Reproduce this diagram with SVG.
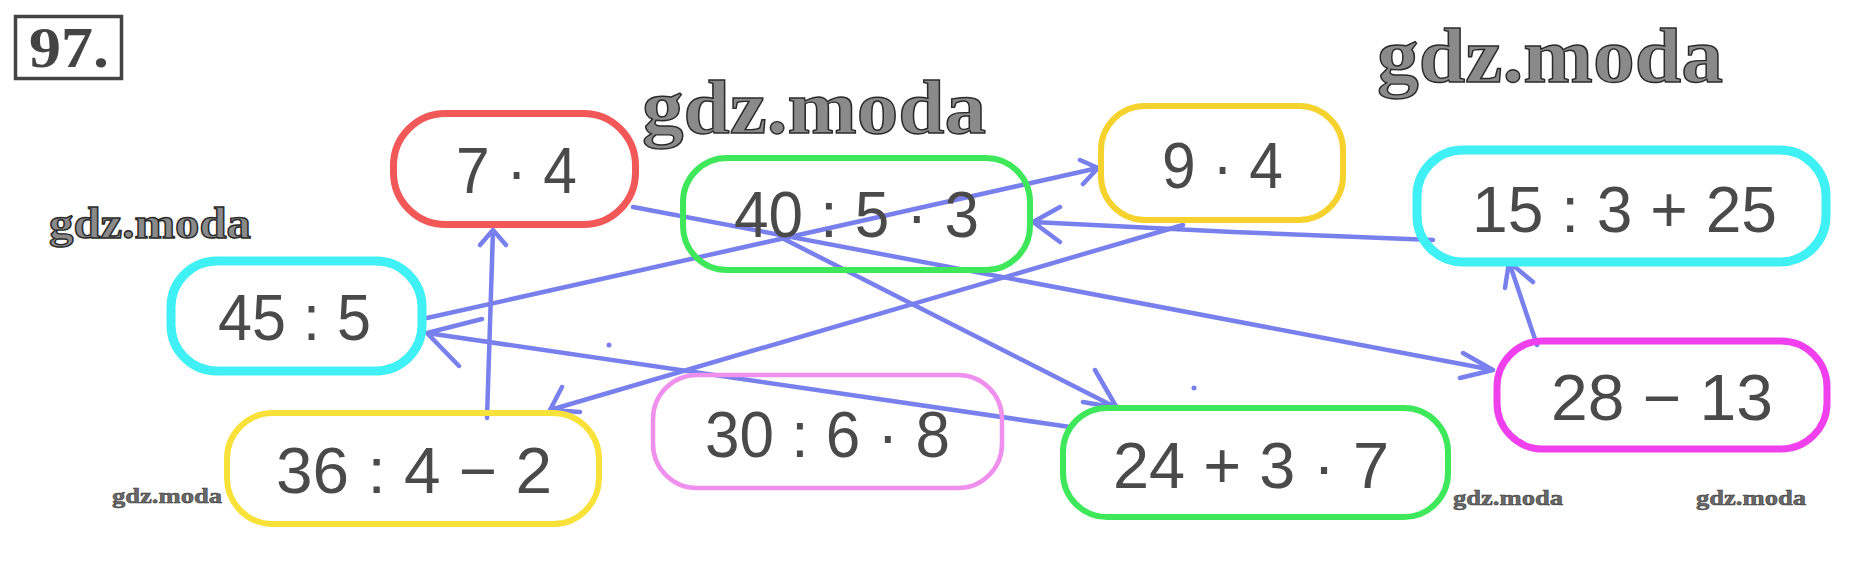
<svg xmlns="http://www.w3.org/2000/svg" width="1855" height="572" viewBox="0 0 1855 572">
<style>
.box{fill:none;}
.lbl{font-family:"Liberation Sans","Roboto",sans-serif;font-size:64px;fill:#4a4a4a;}
.wm{font-family:"Liberation Serif","DejaVu Serif",serif;font-weight:bold;fill:#8a8a8a;stroke:#2a2a2a;stroke-width:1.4;}
.wms{font-family:"Liberation Serif","DejaVu Serif",serif;font-weight:bold;fill:#6a6a6a;stroke:#333;stroke-width:0.5;}
.c{fill:none;stroke:#7880ee;stroke-width:4.5;stroke-linecap:round;stroke-linejoin:round;}
.dot{fill:#7880ee;}
</style>
<rect width="1855" height="572" fill="#fff"/>
<g id="title">
<rect x="15.5" y="16.5" width="106" height="62" fill="none" stroke="#444" stroke-width="3.5"/>
<text x="29" y="67" font-family="Liberation Serif, serif" font-weight="bold" font-size="56" fill="#444" textLength="80" lengthAdjust="spacingAndGlyphs">97.</text>
</g>
<g id="watermarks">
<text class="wm" x="642" y="133" font-size="76" textLength="344" lengthAdjust="spacingAndGlyphs">gdz.moda</text>
<text class="wm" x="1377" y="82" font-size="78" textLength="346" lengthAdjust="spacingAndGlyphs">gdz.moda</text>
<text class="wm" x="49" y="238" font-size="45" textLength="202" lengthAdjust="spacingAndGlyphs" stroke-width="0.9">gdz.moda</text>
<text class="wms" x="112" y="503" font-size="22" textLength="110" lengthAdjust="spacingAndGlyphs">gdz.moda</text>
<text class="wms" x="1453" y="505" font-size="22" textLength="110" lengthAdjust="spacingAndGlyphs">gdz.moda</text>
<text class="wms" x="1696" y="505" font-size="22" textLength="110" lengthAdjust="spacingAndGlyphs">gdz.moda</text>
</g>
<g id="connectors">
<path class="c" d="M633,207 L1493,370 M1463,353 L1493,370 L1460,378"/>
<path class="c" d="M1537,345 L1509,262 M1505,288 L1509,262 L1533,282"/>
<path class="c" d="M1433,240 L1233,232 L1033,222 M1060,207 L1033,222 L1060,242"/>
<path class="c" d="M780,237 L1117,408 M1095,370 L1117,408 L1083,402"/>
<path class="c" d="M1070,427 L427,333 M482,319 L427,333 L459,366"/>
<path class="c" d="M427,318 L1098,168 M1080,160 L1098,168 L1083,184"/>
<path class="c" d="M1183,225 L550,410 M562,387 L550,410 L580,412"/>
<path class="c" d="M487,418 L493,230 M480,245 L493,230 L506,245"/>
<circle class="dot" cx="609" cy="345" r="2.5"/>
<circle class="dot" cx="1194" cy="388" r="2.5"/>
</g>
<g id="n74">
<rect class="box" x="393.5" y="113.5" width="242" height="111" rx="52" stroke="#f25858" stroke-width="7"/>
<text class="lbl" x="456" y="193" textLength="121" lengthAdjust="spacingAndGlyphs">7 · 4</text>
</g>
<g id="n4053">
<rect class="box" x="683" y="158" width="347" height="112" rx="44" stroke="#3ee85a" stroke-width="6"/>
<text class="lbl" x="734" y="237" textLength="245" lengthAdjust="spacingAndGlyphs">40 : 5 · 3</text>
</g>
<g id="n94">
<rect class="box" x="1101" y="106" width="242" height="114" rx="44" stroke="#f6d22e" stroke-width="6"/>
<text class="lbl" x="1162" y="188" textLength="121" lengthAdjust="spacingAndGlyphs">9 · 4</text>
</g>
<g id="n15325">
<rect class="box" x="1417" y="150" width="409" height="112" rx="46" stroke="#3ff0f4" stroke-width="9"/>
<text class="lbl" x="1472" y="232" textLength="305" lengthAdjust="spacingAndGlyphs">15 : 3 + 25</text>
</g>
<g id="n455">
<rect class="box" x="171" y="261" width="251" height="110" rx="46" stroke="#3ff0f4" stroke-width="9"/>
<text class="lbl" x="218" y="340" textLength="153" lengthAdjust="spacingAndGlyphs">45 : 5</text>
</g>
<g id="n3642">
<rect class="box" x="227" y="413" width="372" height="111" rx="46" stroke="#f8e23a" stroke-width="6"/>
<text class="lbl" x="276" y="493" textLength="276" lengthAdjust="spacingAndGlyphs">36 : 4 − 2</text>
</g>
<g id="n3068">
<rect class="box" x="653" y="375" width="349" height="113" rx="44" stroke="#f090ee" stroke-width="4.5"/>
<text class="lbl" x="705" y="457" textLength="245" lengthAdjust="spacingAndGlyphs">30 : 6 · 8</text>
</g>
<g id="n2437">
<rect class="box" x="1063" y="408" width="385" height="109" rx="44" stroke="#3ee85a" stroke-width="6"/>
<text class="lbl" x="1113" y="488" textLength="276" lengthAdjust="spacingAndGlyphs">24 + 3 · 7</text>
</g>
<g id="n2813">
<rect class="box" x="1497" y="341" width="330" height="108" rx="46" stroke="#f040ee" stroke-width="7"/>
<text class="lbl" x="1551" y="420" textLength="222" lengthAdjust="spacingAndGlyphs">28 − 13</text>
</g>
</svg>
